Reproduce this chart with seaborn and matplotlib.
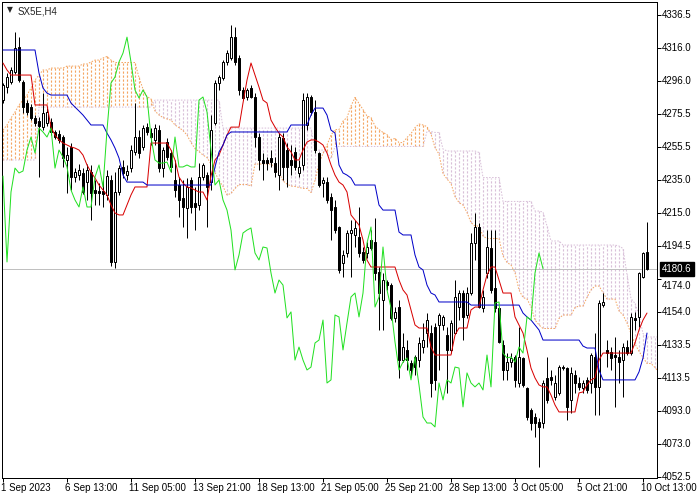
import numpy as np
import pandas as pd
import matplotlib
matplotlib.use("Agg")
import matplotlib.pyplot as plt
import matplotlib.transforms as mtransforms
import seaborn as sns

# ---------------- data ----------------
open_ = [4284.2, 4292.2, 4295.3, 4301.4, 4316.8, 4295.3, 4282.4, 4279.9, 4273.2, 4271.3,
         4267.6, 4270.1, 4270.7, 4264.6, 4263.3, 4261.5, 4247.4, 4255.4, 4236.9, 4238.1,
         4239.4, 4233.8, 4240.0, 4228.9, 4228.3, 4228.3, 4225.9, 4235.1, 4184.7, 4227.7,
         4243.1, 4238.1, 4242.4, 4252.3, 4261.5, 4255.4, 4267.6, 4263.9, 4259.7, 4265.8,
         4242.4, 4258.4, 4251.7, 4235.1, 4232.0, 4224.0, 4217.9, 4235.1, 4220.9, 4219.7,
         4236.9, 4238.1, 4233.8, 4270.1, 4294.7, 4297.8, 4307.6, 4310.1, 4322.9, 4310.1,
         4290.4, 4286.1, 4291.6, 4286.1, 4261.5, 4247.4, 4247.4, 4248.6, 4245.5, 4238.1,
         4260.9, 4253.5, 4247.4, 4252.3, 4239.4, 4244.3, 4268.9, 4286.1, 4276.9, 4251.7,
         4233.2, 4233.8, 4224.6, 4218.5, 4206.2, 4184.1, 4190.2, 4202.5, 4201.3, 4200.0,
         4190.8, 4190.2, 4198.2, 4197.0, 4178.5, 4161.3, 4172.4, 4170.5, 4150.3, 4157.0,
         4124.4, 4130.6, 4122.6, 4126.3, 4124.4, 4132.4, 4141.0, 4141.0, 4144.7, 4146.0,
         4146.0, 4139.8, 4130.6, 4141.0, 4157.0, 4165.6, 4152.1, 4165.6, 4196.4, 4206.2,
         4156.4, 4177.9, 4193.3, 4168.7, 4156.4, 4133.7, 4118.3, 4123.2, 4126.3, 4110.3,
         4125.7, 4107.2, 4093.7, 4089.4, 4086.4, 4085.7, 4113.4, 4114.0, 4101.7, 4104.2,
         4120.1, 4119.5, 4099.9, 4115.2, 4110.3, 4107.2, 4112.2, 4110.3, 4126.3, 4107.9,
         4158.2, 4130.6, 4129.4, 4127.5, 4126.3, 4124.4, 4132.4, 4128.7, 4150.3, 4150.9,
         4175.5, 4190.8]
high = [4294.7, 4300.8, 4304.5, 4326.0, 4323.0, 4296.5, 4284.2, 4281.8, 4275.0, 4273.8,
        4288.5, 4279.3, 4273.2, 4265.8, 4265.8, 4262.7, 4255.4, 4257.8, 4242.4, 4245.1,
        4242.4, 4245.1, 4244.3, 4235.1, 4233.2, 4235.1, 4241.2, 4238.1, 4240.0, 4244.3,
        4247.4, 4244.3, 4256.6, 4282.4, 4265.8, 4268.9, 4270.1, 4267.0, 4269.5, 4268.9,
        4255.4, 4260.9, 4253.5, 4247.4, 4236.9, 4235.1, 4236.3, 4236.9, 4230.8, 4245.5,
        4245.5, 4240.0, 4275.0, 4296.5, 4299.6, 4308.8, 4315.0, 4330.3, 4329.1, 4311.9,
        4292.2, 4291.6, 4293.5, 4288.5, 4263.9, 4251.7, 4249.2, 4253.5, 4249.2, 4263.9,
        4263.9, 4257.8, 4256.6, 4255.4, 4247.4, 4288.5, 4288.5, 4287.3, 4284.2, 4252.3,
        4236.9, 4236.9, 4227.1, 4222.8, 4207.0, 4192.1, 4204.3, 4210.5, 4210.5, 4218.5,
        4193.9, 4197.0, 4204.3, 4211.7, 4181.6, 4177.9, 4173.6, 4171.8, 4157.0, 4161.3,
        4141.0, 4136.7, 4124.4, 4127.5, 4138.6, 4147.2, 4153.3, 4146.0, 4147.2, 4153.3,
        4152.1, 4144.7, 4149.0, 4173.6, 4167.5, 4167.5, 4169.3, 4202.5, 4214.8, 4208.6,
        4167.5, 4204.3, 4204.3, 4204.3, 4157.0, 4136.7, 4128.7, 4128.7, 4127.5, 4144.7,
        4126.3, 4107.9, 4094.9, 4091.9, 4088.8, 4112.2, 4126.3, 4118.3, 4115.2, 4121.4,
        4121.4, 4120.1, 4120.1, 4118.3, 4114.0, 4112.2, 4114.0, 4128.7, 4141.0, 4161.3,
        4165.6, 4136.7, 4132.4, 4138.6, 4130.6, 4134.9, 4136.7, 4153.3, 4153.9, 4178.5,
        4190.8, 4209.3]
low = [4282.4, 4288.5, 4294.1, 4300.2, 4295.3, 4276.3, 4275.0, 4271.9, 4268.3, 4236.9,
       4265.8, 4268.3, 4262.7, 4260.3, 4257.8, 4243.1, 4227.1, 4228.9, 4233.8, 4235.1,
       4226.5, 4222.8, 4210.5, 4219.7, 4219.7, 4218.5, 4222.8, 4182.2, 4181.0, 4225.9,
       4236.3, 4235.1, 4240.0, 4250.4, 4248.6, 4253.5, 4262.7, 4256.6, 4256.6, 4240.0,
       4236.9, 4247.4, 4240.0, 4224.6, 4212.3, 4206.2, 4199.4, 4214.8, 4204.3, 4216.6,
       4235.1, 4206.2, 4228.9, 4268.9, 4290.4, 4296.5, 4305.8, 4308.8, 4305.8, 4287.3,
       4284.2, 4284.2, 4285.5, 4255.4, 4241.2, 4235.1, 4241.2, 4243.1, 4236.9, 4228.9,
       4235.1, 4230.8, 4238.1, 4241.2, 4236.9, 4241.2, 4265.8, 4275.0, 4251.7, 4230.8,
       4224.6, 4220.9, 4198.2, 4202.5, 4177.9, 4175.5, 4187.7, 4175.5, 4193.9, 4187.7,
       4184.1, 4187.1, 4192.1, 4173.6, 4142.9, 4142.9, 4167.5, 4149.0, 4147.8, 4113.4,
       4123.2, 4118.3, 4114.0, 4115.2, 4120.1, 4128.7, 4132.4, 4101.7, 4106.0, 4118.3,
       4142.9, 4104.2, 4128.7, 4140.5, 4149.0, 4136.7, 4150.3, 4164.4, 4185.9, 4156.4,
       4153.9, 4174.8, 4165.6, 4153.9, 4134.9, 4112.2, 4112.2, 4120.1, 4107.9, 4107.9,
       4107.9, 4087.6, 4081.4, 4077.1, 4058.7, 4082.6, 4098.0, 4109.1, 4099.9, 4102.9,
       4118.3, 4087.6, 4091.9, 4104.2, 4106.0, 4104.2, 4104.2, 4104.2, 4090.6, 4090.6,
       4157.0, 4120.1, 4118.3, 4095.6, 4110.3, 4101.7, 4127.5, 4127.5, 4142.9, 4144.7,
       4174.8, 4179.8]
close = [4293.5, 4298.4, 4302.7, 4316.2, 4296.5, 4279.9, 4276.9, 4273.2, 4270.1, 4268.3,
         4276.3, 4276.9, 4264.6, 4261.5, 4259.7, 4248.6, 4250.4, 4236.9, 4240.0, 4241.2,
         4227.7, 4241.2, 4227.1, 4227.1, 4227.1, 4226.5, 4237.5, 4184.7, 4227.7, 4242.4,
         4239.4, 4240.6, 4253.5, 4261.5, 4251.7, 4267.0, 4264.6, 4261.5, 4267.0, 4242.4,
         4253.5, 4249.2, 4243.1, 4228.9, 4222.8, 4218.5, 4230.8, 4218.5, 4218.5, 4236.9,
         4244.3, 4230.8, 4265.8, 4294.7, 4298.4, 4307.6, 4313.1, 4322.9, 4307.6, 4290.4,
         4285.5, 4290.4, 4286.1, 4261.5, 4247.4, 4245.5, 4245.5, 4246.1, 4240.0, 4261.5,
         4243.1, 4243.1, 4244.3, 4243.1, 4243.1, 4284.2, 4286.1, 4276.9, 4253.5, 4232.0,
         4235.1, 4222.8, 4216.6, 4204.3, 4179.8, 4189.0, 4202.5, 4204.3, 4205.6, 4190.2,
         4185.9, 4193.9, 4193.3, 4177.9, 4165.6, 4173.6, 4170.5, 4150.3, 4154.0, 4124.4,
         4132.4, 4124.4, 4118.3, 4120.1, 4134.9, 4136.7, 4149.0, 4110.3, 4112.2, 4152.1,
         4150.9, 4130.6, 4147.2, 4163.2, 4165.6, 4150.9, 4165.6, 4196.4, 4206.2, 4157.0,
         4163.2, 4193.9, 4167.5, 4156.4, 4135.5, 4118.3, 4123.2, 4125.7, 4112.2, 4126.3,
         4109.1, 4089.4, 4085.7, 4085.7, 4083.3, 4110.3, 4099.9, 4112.2, 4110.3, 4120.1,
         4119.5, 4095.6, 4116.5, 4110.3, 4107.9, 4110.3, 4106.0, 4127.5, 4107.9, 4159.5,
         4160.1, 4128.7, 4125.7, 4126.3, 4123.2, 4132.4, 4128.7, 4150.9, 4149.0, 4177.9,
         4190.2, 4180.6]

tenkan = [4307.0, 4302.7, 4299.6, 4299.6, 4299.6, 4299.6, 4299.6, 4299.6, 4281.2, 4281.2,
          4281.2, 4281.2, 4267.6, 4262.7, 4259.7, 4257.8, 4256.6, 4255.4, 4254.7, 4253.5,
          4250.4, 4244.3, 4240.0, 4236.3, 4232.0, 4228.9, 4225.9, 4219.7, 4214.8, 4213.6,
          4213.6, 4219.7, 4225.9, 4230.8, 4230.8, 4230.8, 4230.8, 4257.8, 4257.8, 4257.8,
          4257.8, 4257.8, 4253.5, 4247.4, 4236.9, 4233.2, 4230.8, 4230.2, 4228.9, 4227.7,
          4227.7, 4222.8, 4237.5, 4247.4, 4250.4, 4256.6, 4262.7, 4267.6, 4267.6, 4267.6,
          4282.4, 4296.5, 4307.0, 4299.6, 4292.2, 4284.2, 4282.4, 4271.9, 4267.6, 4263.9,
          4261.5, 4255.4, 4252.3, 4247.4, 4247.4, 4253.5, 4258.4, 4259.7, 4259.7, 4258.4,
          4256.6, 4251.7, 4244.3, 4238.1, 4233.8, 4232.0, 4227.7, 4213.6, 4210.5, 4207.4,
          4198.2, 4185.9, 4181.6, 4181.6, 4181.6, 4181.6, 4181.6, 4181.6, 4181.6, 4173.6,
          4167.5, 4164.4, 4155.2, 4146.0, 4144.1, 4144.1, 4144.1, 4132.4, 4127.5, 4127.5,
          4127.5, 4127.5, 4127.5, 4139.8, 4144.1, 4144.1, 4144.1, 4155.2, 4157.0, 4157.0,
          4167.5, 4176.7, 4181.6, 4181.6, 4173.6, 4165.6, 4165.6, 4165.6, 4150.9, 4146.0,
          4141.0, 4130.6, 4119.5, 4113.4, 4109.1, 4107.9, 4107.9, 4102.9, 4096.8, 4092.5,
          4092.5, 4092.5, 4092.5, 4092.5, 4104.2, 4104.8, 4109.1, 4112.2, 4113.4, 4124.4,
          4128.7, 4128.7, 4128.7, 4128.7, 4128.7, 4128.7, 4128.7, 4128.7, 4134.9, 4142.9,
          4149.0, 4153.3]
kijun = [4315.0, 4315.0, 4315.0, 4315.0, 4315.0, 4315.0, 4315.0, 4315.0, 4315.0, 4300.8,
         4291.6, 4288.5, 4287.3, 4287.3, 4287.3, 4287.3, 4287.3, 4282.4, 4279.9, 4277.5,
         4275.0, 4271.9, 4268.9, 4268.9, 4268.9, 4268.9, 4263.9, 4259.7, 4254.7, 4248.6,
         4238.1, 4233.8, 4233.8, 4233.8, 4233.8, 4233.8, 4232.0, 4232.0, 4232.0, 4232.0,
         4232.0, 4232.0, 4232.0, 4232.0, 4232.0, 4232.0, 4232.0, 4232.0, 4232.0, 4232.0,
         4232.0, 4232.0, 4232.0, 4243.1, 4252.3, 4256.6, 4262.7, 4264.6, 4264.6, 4264.6,
         4264.6, 4264.6, 4264.6, 4264.6, 4264.6, 4264.6, 4264.6, 4264.6, 4264.6, 4264.6,
         4264.6, 4264.6, 4268.9, 4268.9, 4268.9, 4268.9, 4268.9, 4275.0, 4279.3, 4279.3,
         4279.3, 4275.0, 4265.8, 4263.9, 4244.3, 4239.4, 4238.1, 4236.3, 4232.0, 4232.0,
         4232.0, 4232.0, 4232.0, 4232.0, 4219.7, 4216.6, 4216.6, 4216.6, 4216.6, 4203.1,
         4201.3, 4201.3, 4201.3, 4189.0, 4181.6, 4179.8, 4170.5, 4165.6, 4164.4, 4160.1,
         4160.1, 4160.1, 4160.1, 4160.1, 4160.1, 4160.1, 4160.1, 4158.2, 4158.2, 4158.2,
         4158.2, 4158.2, 4158.2, 4158.2, 4158.2, 4158.2, 4158.2, 4158.2, 4158.2, 4158.2,
         4153.3, 4150.9, 4149.0, 4146.0, 4142.9, 4136.7, 4136.7, 4136.7, 4136.7, 4136.7,
         4136.7, 4136.7, 4136.7, 4136.7, 4136.7, 4133.0, 4131.8, 4131.8, 4131.8, 4118.3,
         4112.2, 4112.2, 4112.2, 4112.2, 4112.2, 4112.2, 4112.2, 4112.2, 4112.2, 4117.1,
         4125.7, 4141.0]
span_a = [4265.8, 4268.9, 4273.2, 4276.9, 4281.2, 4284.2, 4287.3, 4291.6, 4296.5, 4299.6,
          4302.7, 4302.7, 4303.9, 4303.9, 4303.9, 4303.9, 4305.1, 4305.1, 4305.1, 4305.1,
          4306.4, 4306.4, 4307.6, 4308.8, 4308.8, 4310.1, 4311.0, 4308.8, 4307.3, 4307.3,
          4307.3, 4307.3, 4307.3, 4307.3, 4298.1, 4291.0, 4286.4, 4284.9, 4277.5, 4275.0,
          4273.5, 4272.6, 4271.9, 4268.9, 4267.3, 4265.5, 4262.7, 4258.1, 4254.4, 4252.6,
          4250.4, 4248.9, 4244.9, 4239.7, 4234.8, 4231.1, 4225.9, 4226.8, 4229.9, 4232.3,
          4232.3, 4232.3, 4231.4, 4244.9, 4244.9, 4244.9, 4244.9, 4244.9, 4242.8, 4239.7,
          4234.5, 4232.6, 4231.4, 4231.1, 4230.5, 4229.9, 4229.9, 4227.4, 4234.8, 4245.2,
          4251.4, 4256.6, 4262.7, 4266.1, 4266.1, 4271.3, 4273.5, 4280.6, 4285.8, 4282.1,
          4278.4, 4274.4, 4273.5, 4268.3, 4266.1, 4264.3, 4263.0, 4260.0, 4260.6, 4258.1,
          4258.1, 4261.2, 4263.6, 4267.3, 4269.5, 4268.9, 4267.9, 4263.3, 4255.0, 4251.0,
          4239.1, 4235.7, 4232.9, 4224.9, 4221.2, 4219.7, 4215.1, 4208.9, 4206.8, 4206.8,
          4200.7, 4199.1, 4199.1, 4199.1, 4199.1, 4188.4, 4184.4, 4182.8, 4178.2, 4167.5,
          4162.9, 4161.9, 4157.3, 4149.0, 4146.0, 4143.8, 4143.8, 4143.8, 4143.8, 4150.0,
          4152.1, 4152.1, 4152.1, 4156.7, 4157.6, 4157.6, 4162.9, 4167.5, 4169.9, 4169.9,
          4165.9, 4161.9, 4161.9, 4161.9, 4154.6, 4152.1, 4147.2, 4140.7, 4134.3, 4129.7,
          4126.0, 4122.3, 4122.3, 4119.8, 4116.8]
span_b = [4247.4, 4247.4, 4247.4, 4247.4, 4247.4, 4247.4, 4247.4, 4247.4, 4247.4, 4279.9,
          4279.9, 4279.9, 4279.9, 4279.9, 4279.9, 4279.9, 4279.9, 4279.9, 4279.9, 4279.9,
          4279.9, 4279.9, 4279.9, 4279.9, 4279.9, 4279.9, 4279.9, 4279.9, 4279.9, 4279.9,
          4279.9, 4279.9, 4279.9, 4279.9, 4279.9, 4279.9, 4279.9, 4279.9, 4284.2, 4284.2,
          4284.2, 4284.2, 4284.2, 4284.2, 4284.2, 4284.2, 4284.2, 4284.2, 4284.2, 4284.2,
          4284.2, 4284.2, 4284.2, 4284.2, 4284.2, 4267.0, 4267.0, 4267.0, 4267.0, 4267.0,
          4267.0, 4267.0, 4267.0, 4267.0, 4267.0, 4267.0, 4267.0, 4267.0, 4267.0, 4267.0,
          4267.0, 4267.0, 4267.0, 4267.0, 4267.0, 4267.0, 4267.0, 4267.0, 4253.5, 4253.5,
          4253.5, 4252.0, 4248.0, 4255.7, 4255.7, 4255.7, 4255.7, 4255.7, 4255.7, 4255.7,
          4255.7, 4255.7, 4255.7, 4255.7, 4255.7, 4255.7, 4255.7, 4255.7, 4255.7, 4255.7,
          4255.7, 4255.7, 4255.7, 4255.7, 4255.7, 4255.7, 4264.9, 4264.9, 4264.3, 4264.3,
          4254.1, 4252.9, 4252.9, 4252.9, 4252.9, 4252.9, 4252.9, 4252.9, 4252.9, 4252.0,
          4236.6, 4236.6, 4236.6, 4236.6, 4236.6, 4221.9, 4221.9, 4221.9, 4221.9, 4221.9,
          4221.9, 4221.9, 4221.9, 4216.0, 4216.0, 4215.4, 4206.8, 4197.6, 4197.6, 4197.6,
          4195.1, 4195.1, 4195.1, 4195.1, 4195.1, 4195.1, 4195.1, 4195.1, 4195.1, 4195.1,
          4195.1, 4195.1, 4195.1, 4195.1, 4194.5, 4193.0, 4177.0, 4162.2, 4159.2, 4152.1,
          4140.7, 4138.6, 4138.6, 4138.6, 4138.6]

chikou_shift = 26
last_price = 4180.6
y_tick_values = [4336.5, 4316.0, 4296.0, 4275.5, 4255.5, 4235.0, 4215.0, 4194.5,
                 4174.0, 4154.0, 4133.5, 4113.5, 4093.0, 4073.0, 4052.5]
x_tick_bars = [0, 16, 32, 48, 64, 80, 96, 112, 128, 144, 160]
x_tick_labels = ["1 Sep 2023", "6 Sep 13:00", "11 Sep 05:00", "13 Sep 21:00",
                 "18 Sep 13:00", "21 Sep 05:00", "25 Sep 21:00", "28 Sep 13:00",
                 "3 Oct 05:00", "5 Oct 21:00", "10 Oct 13:00"]
symbol_label = "SX5E,H4"

# ---------------- style ----------------
sns.set_style("white")
plt.rcParams["font.family"] = ["Liberation Sans", "DejaVu Sans"]
plt.rcParams["lines.scale_dashes"] = False
FS = 7
PX = 0.72  # one pixel in points

C_UP_KUMO = "#F4A460"   # SandyBrown
C_DN_KUMO = "#D8BFD8"   # Thistle
C_TENKAN = "#D80000"
C_KIJUN = "#0000C8"
C_CHIKOU = "#22E022"

W, H = 700, 500
fig = plt.figure(figsize=(W / 100, H / 100), dpi=100)
fig.patch.set_facecolor("white")
ax = fig.add_axes([2 / W, 22 / H, 655 / W, 476 / H])
ax.set_facecolor("white")

# ---------------- price data frames ----------------
df = pd.DataFrame({"bar": np.arange(len(close)), "open": open_, "high": high,
                   "low": low, "close": close, "tenkan": tenkan, "kijun": kijun})
cloud = pd.DataFrame({"bar": np.arange(len(span_a)), "a": span_a, "b": span_b})


def column_segments(frame):
    """x/y arrays of vertical segments (bar, a)->(bar, b) separated by NaN."""
    n = len(frame)
    xs = np.empty(3 * n)
    ys = np.empty(3 * n)
    xs[0::3] = frame["bar"].values
    xs[1::3] = frame["bar"].values
    xs[2::3] = np.nan
    ys[0::3] = frame["a"].values
    ys[1::3] = frame["b"].values
    ys[2::3] = np.nan
    return xs, ys


# ---------------- Kumo (dotted histogram) ----------------
dot = (0, (2.2 * PX, 1.8 * PX))
up = cloud["a"] >= cloud["b"]
for mask, col in ((up, C_UP_KUMO), (~up, C_DN_KUMO)):
    xs, ys = column_segments(cloud[mask])
    ax.plot(xs, ys, color=col, lw=1.15 * PX, linestyle=dot, antialiased=True,
            dash_capstyle="butt", zorder=1)

sns.lineplot(data=cloud, x="bar", y="a", color=C_UP_KUMO, lw=PX,
             linestyle=(0, (1.5 * PX, 1.5 * PX)), ax=ax, zorder=2, sort=False,
             estimator=None)
sns.lineplot(data=cloud, x="bar", y="b", color=C_DN_KUMO, lw=PX,
             linestyle=(0, (1.5 * PX, 1.5 * PX)), ax=ax, zorder=2, sort=False,
             estimator=None)

# bid line
ax.axhline(last_price, color="#C0C0C0", lw=PX, zorder=1.5)

# ---------------- candles ----------------
ax.vlines(df["bar"], df["low"], df["high"], color="black", lw=PX, zorder=3)
bull = df["close"] >= df["open"]
body_lo = np.minimum(df["open"], df["close"])
body_h = np.abs(df["close"] - df["open"])
ax.bar(df.loc[bull, "bar"], body_h[bull], bottom=body_lo[bull], width=0.58,
       facecolor="white", edgecolor="black", lw=PX, zorder=4)
ax.bar(df.loc[~bull, "bar"], body_h[~bull], bottom=body_lo[~bull], width=0.58,
       facecolor="black", edgecolor="black", lw=PX, zorder=4)

# ---------------- Ichimoku lines ----------------
sns.lineplot(data=df, x="bar", y="tenkan", color=C_TENKAN, lw=PX, ax=ax, zorder=5,
             sort=False, estimator=None)
sns.lineplot(data=df, x="bar", y="kijun", color=C_KIJUN, lw=PX, ax=ax, zorder=5,
             sort=False, estimator=None)
chik = pd.DataFrame({"bar": df["bar"].iloc[:-chikou_shift].values,
                     "val": df["close"].iloc[chikou_shift:].values})
sns.lineplot(data=chik, x="bar", y="val", color=C_CHIKOU, lw=PX, ax=ax, zorder=5,
             sort=False, estimator=None)

# ---------------- axes / ticks ----------------
ax.set_xlim(-0.25, 163.5)
ax.set_ylim(4051.9, 4344.5)
ax.set_xlabel("")
ax.set_ylabel("")
for s in ax.spines.values():
    s.set_visible(True)
    s.set_color("black")
    s.set_linewidth(PX)

ax.set_xticks(x_tick_bars)
ax.set_xticklabels([])
ax.set_yticks(y_tick_values)
ax.set_yticklabels([])
ax.tick_params(axis="x", which="both", bottom=True, top=False, direction="out",
               length=3, width=PX, color="black")
ax.tick_params(axis="y", which="both", left=False, right=True, direction="out",
               length=3, width=PX, color="black", labelleft=False, labelright=False)

xtr = mtransforms.offset_copy(ax.get_xaxis_transform(), fig=fig, x=-2, y=-10, units="dots")
for b, lab in zip(x_tick_bars, x_tick_labels):
    ax.text(b, 0, lab, transform=xtr, ha="left", va="center", fontsize=FS,
            color="black", clip_on=False)

for v in y_tick_values:
    dy = -7 if abs(v - last_price) < 8 and v < last_price else 0
    ytr = mtransforms.offset_copy(ax.get_yaxis_transform(), fig=fig, x=5, y=dy, units="dots")
    ax.text(1, v, f"{v:.1f}", transform=ytr, ha="left", va="center", fontsize=FS,
            color="black", clip_on=False)

ptr = mtransforms.offset_copy(ax.get_yaxis_transform(), fig=fig, x=5, y=0, units="dots")
ax.text(1, last_price, f"{last_price:.1f}", transform=ptr, ha="left", va="center",
        fontsize=FS, color="white", clip_on=False, zorder=10,
        bbox=dict(boxstyle="square,pad=0.2", facecolor="black", edgecolor="black"))

# symbol caption
fig.text(7 / W, 1 - 10 / H, "\u25BC", fontsize=5.5, ha="left", va="center",
         family=["DejaVu Sans"])
fig.text(18 / W, 1 - 11 / H, symbol_label, fontsize=FS, ha="left", va="center")

fig.savefig("out.png", dpi=100, facecolor="white")
